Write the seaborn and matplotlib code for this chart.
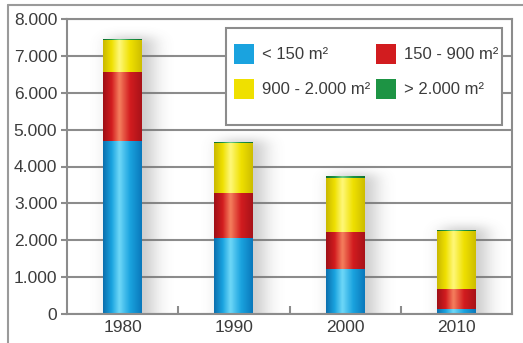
import numpy as np
import pandas as pd
import matplotlib
matplotlib.use("Agg")
import matplotlib.pyplot as plt
from matplotlib.colors import LinearSegmentedColormap
from matplotlib.patches import Rectangle
from matplotlib.lines import Line2D
import seaborn as sns

# Number of dwellings by floor-area class
years = ["1980", "1990", "2000", "2010"]
lt_150 = [4700, 2070, 1210, 130]
s150_900 = [1870, 1220, 1020, 540]
s900_2000 = [850, 1340, 1460, 1570]
gt_2000 = [40, 40, 40, 50]
series_labels = ["< 150 m²", "150 - 900 m²", "900 - 2.000 m²", "> 2.000 m²"]
y_ticks = [0, 1000, 2000, 3000, 4000, 5000, 6000, 7000, 8000]
y_tick_labels = ["0", "1.000", "2.000", "3.000", "4.000", "5.000", "6.000", "7.000", "8.000"]

# cylinder-like shading: (edge, body, highlight, body, edge)
shades = [
    ["#0b6fae", "#1aa3df", "#6fd8f8", "#1aa3df", "#0a78bb"],
    ["#9e0f16", "#d21c1f", "#f5805e", "#d21c1f", "#a81219"],
    ["#c9b800", "#efe000", "#fff87a", "#efe000", "#cdbd00"],
    ["#0f6e2c", "#1d9444", "#6ccc84", "#1d9444", "#117330"],
]
base_colors = ["#1aa3df", "#d21c1f", "#efe000", "#1d9444"]

sns.set_theme(style="white")
plt.rcParams["font.family"] = ["Liberation Sans", "DejaVu Sans"]
FS = 12.5
FS_LEG = 12.0
TXT = "#3c3c3c"
GRID = "#8c8c8c"

W, H = 523, 343
fig = plt.figure(figsize=(W / 100, H / 100), dpi=100)
AX_L, AX_R, AX_T, AX_B = 67, 512, 19, 314
ax = fig.add_axes([AX_L / W, (H - AX_B) / H, (AX_R - AX_L) / W, (AX_B - AX_T) / H])


def px_to_axes(px, py):
    return (px - AX_L) / (AX_R - AX_L), (AX_B - py) / (AX_B - AX_T)


df = pd.DataFrame({"year": years, "a": lt_150, "b": s150_900, "c": s900_2000, "d": gt_2000})
df["c1"] = df["a"]
df["c2"] = df["c1"] + df["b"]
df["c3"] = df["c2"] + df["c"]
df["c4"] = df["c3"] + df["d"]

bar_w = 0.35
xlim = (-0.5, 3.5)
ylim = (0, 8000)

# soft blurred shadow cast to the right of each column
nx, ny = AX_R - AX_L, AX_B - AX_T
gx = np.linspace(xlim[0], xlim[1], nx)
gy = np.linspace(ylim[1], ylim[0], ny)
mask = np.zeros((ny, nx))
for i, tot in enumerate(df["c4"]):
    inx = (gx >= i - bar_w / 2 + 0.06) & (gx <= i + bar_w / 2 + 0.10)
    iny = gy <= tot + 60
    mask[np.ix_(iny, inx)] = 1.0


def blur1d(a, sigma, axis):
    r = int(3 * sigma)
    k = np.exp(-0.5 * (np.arange(-r, r + 1) / sigma) ** 2)
    k /= k.sum()
    return np.apply_along_axis(lambda v: np.convolve(np.pad(v, r, mode="edge"), k, mode="valid"), axis, a)


shadow = blur1d(blur1d(mask, 9, 1), 5, 0)
rgba = np.zeros((ny, nx, 4))
rgba[..., :3] = 0.42
rgba[..., 3] = 0.36 * shadow
ax.imshow(rgba, extent=(xlim[0], xlim[1], ylim[0], ylim[1]), origin="upper",
          aspect="auto", zorder=1.5, interpolation="bilinear")

# stacked columns, tallest cumulative layer first
layers = ["c4", "c3", "c2", "c1"]
layer_idx = [3, 2, 1, 0]
grad = np.linspace(0, 1, 128).reshape(1, -1)
for k, (col, li) in enumerate(zip(layers, layer_idx)):
    n_before = len(ax.patches)
    sns.barplot(data=df, x="year", y=col, color=base_colors[li], width=bar_w,
                saturation=1, ax=ax, zorder=2 + k * 0.1, linewidth=0)
    cmap = LinearSegmentedColormap.from_list(
        f"shade{li}", list(zip([0, 0.22, 0.42, 0.7, 1.0], shades[li])))
    for p in ax.patches[n_before:]:
        x0, y0 = p.get_x(), p.get_y()
        w, h = p.get_width(), p.get_height()
        im = ax.imshow(grad, cmap=cmap, extent=(x0, x0 + w, y0, y0 + h),
                       aspect="auto", zorder=2.05 + k * 0.1, interpolation="bicubic")
        im.set_clip_path(p)

ax.set_xlim(*xlim)
ax.set_ylim(*ylim)
ax.set_xlabel("")
ax.set_ylabel("")

ax.set_yticks(y_ticks)
ax.set_yticklabels(y_tick_labels)
ax.yaxis.grid(True, color=GRID, linewidth=1.5, zorder=0)
ax.set_axisbelow(True)
ax.tick_params(axis="y", which="major", length=4, width=1.5, color=GRID,
               labelsize=FS, labelcolor=TXT, pad=3, left=True)
ax.tick_params(axis="x", which="major", length=0, labelsize=FS, labelcolor=TXT, pad=4)
ax.set_xticks([0.5, 1.5, 2.5], minor=True)
ax.tick_params(axis="x", which="minor", direction="in", length=6, width=1.5,
               color=GRID, bottom=True)

for s in ax.spines.values():
    s.set_visible(True)
    s.set_color(GRID)
    s.set_linewidth(1.5)

# legend box
bx0, by0 = px_to_axes(226, 125)
bx1, by1 = px_to_axes(502, 28)
ax.add_patch(Rectangle((bx0, by0), bx1 - bx0, by1 - by0, transform=ax.transAxes,
                       facecolor="white", edgecolor=GRID, linewidth=1.5, zorder=4))

handles = [Rectangle((0, 0), 1, 1, facecolor=base_colors[i], edgecolor="none")
           for i in range(4)]
order = [0, 2, 1, 3]
leg = ax.legend([handles[i] for i in order], [series_labels[i] for i in order],
                ncol=2, loc="upper left",
                bbox_to_anchor=px_to_axes(234, 44),
                frameon=False, fontsize=FS_LEG,
                handlelength=1.2, handleheight=1.45, handletextpad=0.5,
                labelspacing=0.9, columnspacing=0.3, borderpad=0,
                borderaxespad=0, labelcolor=TXT)
leg.set_zorder(5)

# outer frame of the figure
fig.add_artist(Line2D([8 / W, 1.0], [1 - 5 / H, 1 - 5 / H],
                      transform=fig.transFigure, color="#9a9a9a", linewidth=1.5))
fig.add_artist(Line2D([8 / W, 8 / W], [0, 1 - 5 / H],
                      transform=fig.transFigure, color="#9a9a9a", linewidth=1.5))

fig.savefig("out.png", dpi=100)
